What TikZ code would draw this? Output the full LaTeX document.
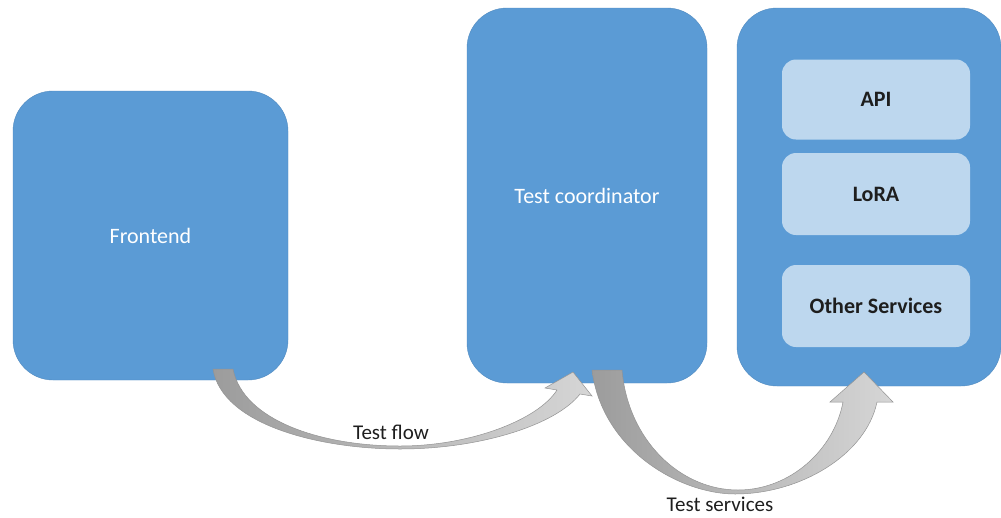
\documentclass[tikz,border=0pt]{standalone}
\usepackage{fontspec}
\setmainfont{Carlito}
\definecolor{boxblue}{HTML}{5B9BD5}
\definecolor{lightblue}{HTML}{BDD7EE}
\definecolor{arrdark}{HTML}{9C9C9C}
\definecolor{arrlight}{HTML}{D6D6D6}
\definecolor{txtdark}{HTML}{1E1E1E}
\begin{document}
\begin{tikzpicture}[x=1pt,y=-1pt,
  bigbox/.style={fill=boxblue, draw=boxblue!90!black, line width=0.4pt, rounded corners=40pt, text=white, font=\fontsize{22}{26}\selectfont},
  innerbox/.style={fill=lightblue, rounded corners=14pt, minimum width=188pt, text=txtdark, font=\fontsize{22}{26}\selectfont\bfseries},
  arrowshape/.style={draw=gray!85, line width=0.5pt, left color=arrdark, right color=arrlight},
  lbl/.style={text=txtdark, font=\fontsize{21}{25}\selectfont}]
\useasboundingbox (0,0) rectangle (1001,517);
% main boxes
\node[bigbox, minimum width=275pt, minimum height=289pt] (fe) at (150.5,235.5) {Frontend};
\node[bigbox, minimum width=240pt, minimum height=375pt] (tc) at (587,195.5) {Test coordinator};
\node[bigbox, minimum width=264pt, minimum height=378pt] (svc) at (869,197) {};
% inner boxes
\node[innerbox, minimum height=80pt] (api) at (876,99.5) {API};
\node[innerbox, minimum height=82pt] (lora) at (876,194) {LoRA};
\node[innerbox, minimum height=82pt] (other) at (876,306) {Other Services};
% Test flow arrow (Frontend -> Test coordinator)
\path[arrowshape]
  (213,369) .. controls (222,425) and (320,449) .. (400,449)
  .. controls (480,449) and (556,425) .. (580,394)
  -- (592,396) -- (573,372) -- (545,388) -- (557,390)
  .. controls (538,420) and (470,446) .. (400,446)
  .. controls (320,446) and (243,420) .. (233,369) -- cycle;
% Test services arrow (Test coordinator -> services)
\path[arrowshape]
  (592,370) .. controls (602,450) and (680,494) .. (735,494)
  .. controls (800,494) and (866,455) .. (877,402)
  -- (893,402) -- (864,372) -- (830,402) -- (843,402)
  .. controls (834,450) and (790,490) .. (738,490)
  .. controls (680,490) and (628,440) .. (622,370) -- cycle;
% labels
\node[lbl] (tfl) at (391,432) {Test flow};
\node[lbl] (tsl) at (720,504) {Test services};
\end{tikzpicture}
\end{document}
